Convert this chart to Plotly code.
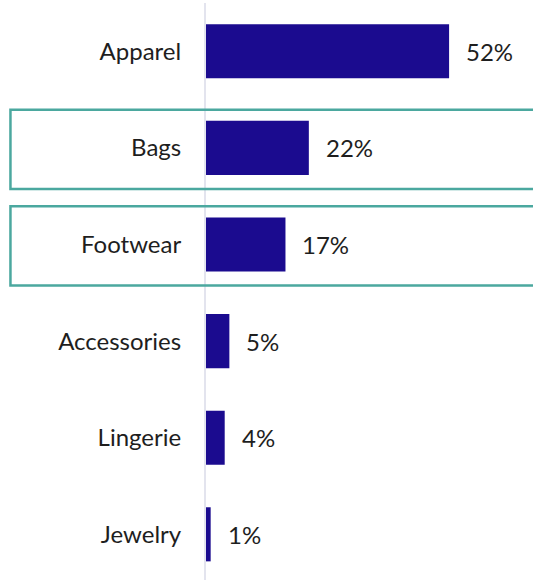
import plotly.graph_objects as go

# Share of sales by product category (%)
categories = ["Apparel", "Bags", "Footwear", "Accessories", "Lingerie", "Jewelry"]
shares = [52, 22, 17, 5, 4, 1]
share_labels = ["52%", "22%", "17%", "5%", "4%", "1%"]
highlighted = ["Bags", "Footwear"]

BAR_COLOR = "#1B0B8F"
BOX_COLOR = "#4BA89F"
TEXT_COLOR = "#1E1E1E"
FONT = "Lato"
FONT_SIZE = 24

fig = go.Figure(
    go.Bar(
        x=shares,
        y=categories,
        orientation="h",
        marker=dict(color=BAR_COLOR, line=dict(width=0)),
        hoverinfo="skip",
    )
)

# Value labels just past the end of each bar
for cat, val, lab in zip(categories, shares, share_labels):
    fig.add_annotation(
        x=val, y=cat, text=lab, showarrow=False,
        xanchor="left", yanchor="middle", xshift=15,
        font=dict(family=FONT, size=FONT_SIZE, color=TEXT_COLOR),
    )

# Outline boxes around the highlighted rows
for cat in highlighted:
    idx = categories.index(cat)
    fig.add_shape(
        type="rect", xref="paper", yref="y",
        x0=-0.598, x1=1.05, y0=idx - 0.395, y1=idx + 0.425,
        line=dict(color=BOX_COLOR, width=2.5),
        fillcolor="rgba(0,0,0,0)", layer="above",
    )

fig.update_layout(
    width=533, height=580,
    margin=dict(l=206, r=0, t=3, b=0),
    paper_bgcolor="white", plot_bgcolor="white",
    bargap=0.44, showlegend=False,
    font=dict(family=FONT, size=FONT_SIZE, color=TEXT_COLOR),
)
fig.update_xaxes(
    range=[0, 69.95], visible=False, showgrid=False, zeroline=False,
)
fig.update_yaxes(
    type="category", categoryorder="array", categoryarray=categories,
    range=[5.473, -0.5], showgrid=False, zeroline=False,
    showline=True, linecolor="#E3E4EE", linewidth=2,
    ticks="", ticklabelstandoff=18,
    tickfont=dict(family=FONT, size=FONT_SIZE, color=TEXT_COLOR),
)

fig.write_html("out.html")
